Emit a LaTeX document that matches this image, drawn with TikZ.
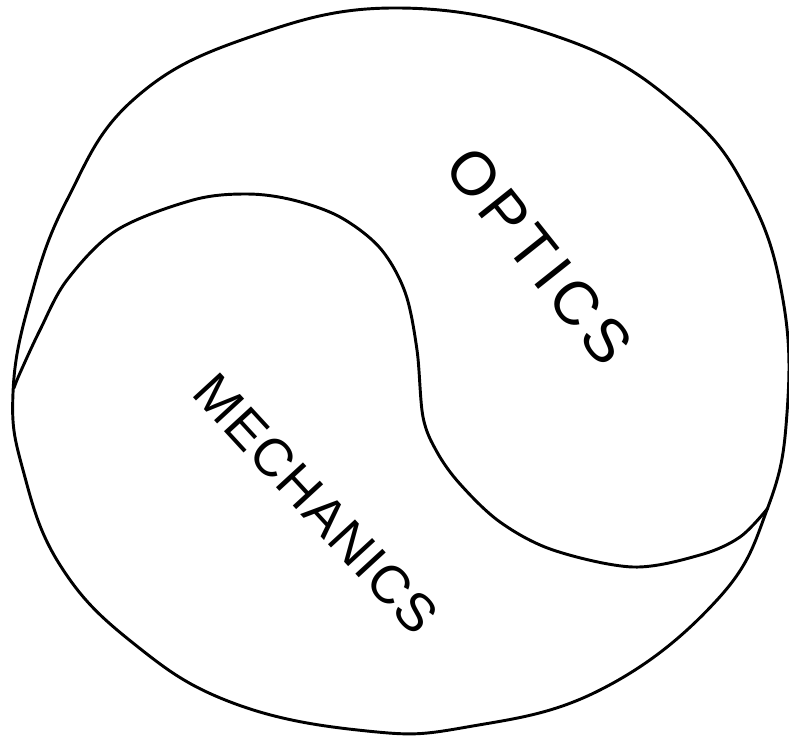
\documentclass[tikz,border=0pt]{standalone}
\usepackage{fontspec}
\setmainfont{Liberation Sans}
\newfontfamily\optfont[LetterSpace=9.5]{Liberation Sans}
\newfontfamily\mechfont[LetterSpace=2.5]{Liberation Sans}
\begin{document}
\begin{tikzpicture}[x=0.75pt,y=-0.75pt,
  stroke/.style={line width=2.2pt,line cap=round,line join=round},
  opt/.style={font=\optfont\fontsize{46}{46}\selectfont,inner sep=0pt,rotate=-51.5},
  mech/.style={font=\mechfont\fontsize{40}{40}\selectfont,inner sep=0pt,rotate=-47.4}]
\useasboundingbox (0,0) rectangle (789,738);
\draw[stroke] plot[smooth cycle,tension=0.7] coordinates {
 (400,8) (567,40) (683,110) (749,195) (783,300) (787,413) (768,507)
 (717,600) (600,690) (467,727) (367,731) (233,703) (133,643) (60,565)
 (23,470) (13,393) (30,300) (67,200) (133,100) (250,37)};
\draw[stroke] plot[smooth,tension=0.55] coordinates {
 (14,388) (20,373) (40,330) (67,280) (117,230) (193,200) (247,194)
 (293,200) (340,217) (380,248) (405,292) (417,350) (423,417) (437,452)
 (460,484) (500,522) (553,550) (633,567) (700,555) (740,537) (768,508)};
\node[opt] (optics) at (539,256) {OPTICS};
\node[mech] (mechanics) at (316,504) {MECHANICS};
\end{tikzpicture}
\end{document}
